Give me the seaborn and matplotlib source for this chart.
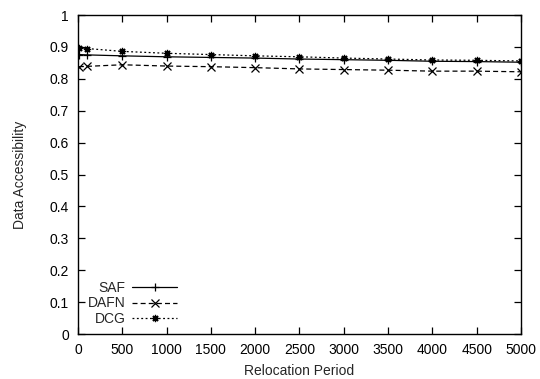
import matplotlib
matplotlib.use("Agg")
import matplotlib.pyplot as plt
import seaborn as sns
import pandas as pd

# Relocation period sweep and measured data accessibility per scheme
periods = [10, 100, 500, 1000, 1500, 2000, 2500, 3000, 3500, 4000, 4500, 5000]
saf = [0.876, 0.875, 0.872, 0.869, 0.867, 0.865, 0.862, 0.860, 0.858, 0.855, 0.854, 0.852]
dafn = [0.838, 0.839, 0.844, 0.840, 0.838, 0.835, 0.831, 0.829, 0.827, 0.824, 0.824, 0.822]
dcg = [0.898, 0.895, 0.886, 0.880, 0.876, 0.872, 0.869, 0.865, 0.862, 0.859, 0.858, 0.856]

series_names = ["SAF", "DAFN", "DCG"]
x_ticks = [0, 500, 1000, 1500, 2000, 2500, 3000, 3500, 4000, 4500, 5000]
y_ticks = [0, 0.1, 0.2, 0.3, 0.4, 0.5, 0.6, 0.7, 0.8, 0.9, 1]
y_tick_labels = ["0", "0.1", "0.2", "0.3", "0.4", "0.5", "0.6", "0.7", "0.8", "0.9", "1"]

sns.set_style("ticks")
plt.rcParams["font.family"] = ["Liberation Sans", "DejaVu Sans"]
plt.rcParams["font.size"] = 10

fig = plt.figure(figsize=(5.4, 3.79), dpi=100)
ax = fig.add_axes([0.1444, 0.1187, 0.8204, 0.8417])

styles = {
    "SAF": dict(marker="+", linestyle="-"),
    "DAFN": dict(marker="x", linestyle=(0, (4, 2.5))),
    "DCG": dict(marker=(8, 2, 0), linestyle=(0, (1.5, 2))),
}
for name, vals in zip(series_names, [saf, dafn, dcg]):
    df = pd.DataFrame({"period": periods, "acc": vals})
    sns.lineplot(data=df, x="period", y="acc", ax=ax, color="black",
                 linewidth=0.9, markersize=5.2, markeredgewidth=0.9,
                 markeredgecolor="black", markerfacecolor="black",
                 label=name, **styles[name])

ax.set_xlim(0, 5000)
ax.set_ylim(0, 1)
ax.set_xticks(x_ticks)
ax.set_xticklabels([str(v) for v in x_ticks])
ax.set_yticks(y_ticks)
ax.set_yticklabels(y_tick_labels)
ax.tick_params(direction="in", top=True, right=True, length=5, width=0.9,
               labelsize=10, colors="black", pad=6.5)
for s in ax.spines.values():
    s.set_linewidth(1.0)
    s.set_color("black")
ax.set_xlabel("Relocation Period", fontsize=10, labelpad=5)
ax.set_ylabel("Data Accessibility", fontsize=10, labelpad=16)

leg = ax.legend(loc="lower left", bbox_to_anchor=(0.0, -0.005), frameon=False,
                markerfirst=False, handlelength=3.2, handletextpad=0.5,
                labelspacing=0.1, borderpad=0.2, fontsize=10)
try:
    for col in leg._legend_box._children[-1]._children:
        col.align = "right"
except Exception:
    pass

fig.savefig("out.png", dpi=100)
